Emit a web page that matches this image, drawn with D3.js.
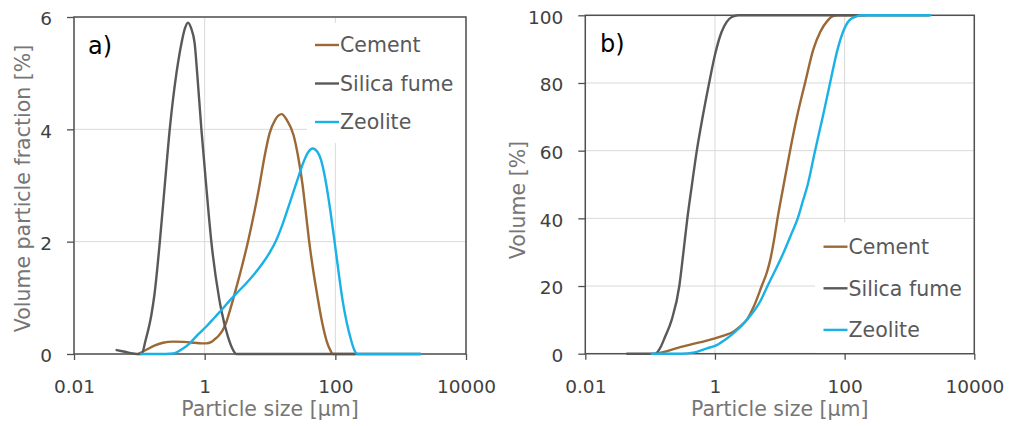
<!DOCTYPE html>
<html><head><meta charset="utf-8">
<script src="https://cdn.jsdelivr.net/npm/d3@7"></script>
<style>
body{margin:0;background:#fff}
svg{display:block}
text{font-family:"DejaVu Sans",sans-serif}
</style>
</head><body>
<svg id="c" width="1013" height="426"></svg>
<script>
// ---- data ----
const seriesNames = ["Cement", "Silica fume", "Zeolite"];
const seriesColors = ["#9c6836", "#595959", "#1ab1e6"];
const xTickValues = [0.01, 1, 100, 10000];
const freqTicks = [0, 2, 4, 6];
const cumTicks = [0, 20, 40, 60, 80, 100];

// frequency distribution [size µm, volume %]
const freqCement = [[0.096,0],[0.13,0.08],[0.17,0.15],[0.23,0.2],[0.33,0.22],[0.48,0.215],[0.7,0.2],[0.9,0.19],[1.06,0.19],[1.25,0.21],[1.42,0.26],[1.65,0.33],[1.9,0.43],[2.15,0.57],[2.4,0.75],[3.0,1.15],[3.7,1.55],[4.6,2.0],[5.7,2.5],[6.9,3.0],[8.2,3.5],[9.8,3.92],[12,4.17],[15.1,4.27],[18.2,4.16],[22.9,3.9],[26.9,3.52],[31.6,3.0],[35.5,2.5],[39.8,2.0],[45.7,1.5],[53.7,1.0],[63.1,0.55],[74.1,0.22],[85.1,0.05],[91.2,0],[200,0]];
const freqSilica = [[0.045,0.07],[0.06,0.04],[0.08,0.01],[0.1,0],[0.108,0],[0.125,0.25],[0.153,0.7],[0.17,1.05],[0.206,2.0],[0.245,3.0],[0.292,4.0],[0.37,5.0],[0.441,5.53],[0.5,5.8],[0.556,5.9],[0.62,5.8],[0.703,5.53],[0.768,5.0],[0.891,4.0],[1.055,3.0],[1.265,2.0],[1.66,1.0],[1.8,0.78],[2.27,0.31],[2.7,0.08],[3.05,0],[30,0],[2000,0]];
const freqZeolite = [[0.107,0],[0.2,0],[0.328,0.01],[0.441,0.08],[0.59,0.19],[0.78,0.34],[1.06,0.49],[1.42,0.65],[1.9,0.81],[2.41,0.95],[3.19,1.1],[4.33,1.26],[5.8,1.43],[7.76,1.62],[9.82,1.8],[12.4,2.02],[14.8,2.24],[17.7,2.5],[22.3,2.85],[26.6,3.12],[31.7,3.38],[37.8,3.58],[45,3.66],[53.1,3.6],[60.5,3.45],[72.1,3.04],[83.9,2.55],[96.6,2.03],[111,1.5],[129,0.96],[150,0.55],[174,0.25],[195,0.07],[219,0],[2000,0]];

// cumulative distribution [size µm, volume %]
const cumCement = [[0.126,0],[0.2,1.0],[0.3,2.0],[0.46,2.9],[0.7,3.7],[1.0,4.5],[1.4,5.4],[1.92,6.5],[2.5,8.2],[3.1,10],[3.98,14],[5.26,20],[6.31,24],[7.08,27.5],[8.13,33.5],[9.23,40],[11.5,50],[14.4,60],[18.4,70],[24.5,80],[33,90],[41.8,95],[55,98.5],[67.6,99.8],[79,100],[200,100]];
const cumSilica = [[0.044,0],[0.119,0],[0.141,1.5],[0.17,5],[0.215,10],[0.282,20],[0.324,29.5],[0.375,40],[0.442,50],[0.525,60],[0.646,70],[0.813,80],[1.02,89],[1.26,95],[1.51,98],[1.82,99.5],[2.29,100],[2000,100]];
const cumZeolite = [[0.106,0],[0.3,0],[0.46,0.3],[0.75,1.6],[1.0,2.3],[1.4,4.0],[1.92,6.0],[3.1,10],[5.0,15.5],[6.28,19.5],[11.5,30],[14.8,35],[18.9,40],[22.6,45],[27,50],[35,60],[46,70],[59.6,80],[78,90],[94,95],[118,98.5],[150,99.6],[174,100],[2100,100]];

// ---- drawing ----
const svg = d3.select("#c");
const FONT_TICK = 18.5, FONT_TITLE = 20.5, FONT_LEG = 20.5;

function panel(cfg){
  const x = d3.scaleLog().domain([0.01, 10000]).range([cfg.x0, cfg.x1]);
  const y = d3.scaleLinear().domain([0, cfg.ymax]).range([cfg.yBot, cfg.yTop]);
  const g = svg.append("g");

  // grid
  g.append("g").selectAll("line").data(xTickValues).join("line")
    .attr("x1", d => x(d)).attr("x2", d => x(d))
    .attr("y1", cfg.yTop).attr("y2", cfg.yBot)
    .attr("stroke", "#d9d9d9").attr("stroke-width", 1);
  g.append("g").selectAll("line").data(cfg.yTicks).join("line")
    .attr("x1", cfg.x0).attr("x2", cfg.x1)
    .attr("y1", d => y(d)).attr("y2", d => y(d))
    .attr("stroke", "#d9d9d9").attr("stroke-width", 1);

  // frame
  g.append("rect").attr("x", cfg.x0).attr("y", cfg.yTop)
    .attr("width", cfg.x1 - cfg.x0).attr("height", cfg.yBot - cfg.yTop)
    .attr("fill", "none").attr("stroke", "#505050").attr("stroke-width", 1.5);

  // axes
  const ax = g.append("g").attr("transform", `translate(0,${cfg.yBot})`)
    .call(d3.axisBottom(x).tickValues(xTickValues).tickFormat(d => String(d)).tickSize(6).tickPadding(20));
  const ay = g.append("g").attr("transform", `translate(${cfg.x0},0)`)
    .call(d3.axisLeft(y).tickValues(cfg.yTicks).tickFormat(d => String(d)).tickSize(7).tickPadding(15));
  [ax, ay].forEach(a => {
    a.select(".domain").remove();
    a.selectAll(".tick line").attr("stroke", "#505050").attr("stroke-width", 1.3);
    a.selectAll(".tick text").attr("fill", "#404040").attr("font-size", FONT_TICK)
      .attr("font-family", '"DejaVu Sans",sans-serif');
  });
  ay.selectAll(".tick text").attr("dy", "0.42em");

  // curves
  const line = d3.line().x(d => x(d[0])).y(d => y(d[1])).curve(d3.curveMonotoneX);
  cfg.series.forEach((s, i) => {
    g.append("path").datum(s).attr("d", line)
      .attr("fill", "none").attr("stroke", seriesColors[i])
      .attr("stroke-width", 2.4).attr("stroke-linejoin", "round").attr("stroke-linecap", "round");
  });

  // legend
  const L = cfg.legend;
  g.append("rect").attr("x", L.bx).attr("y", L.by).attr("width", L.bw).attr("height", L.bh).attr("fill", "#fff");
  seriesNames.forEach((n, i) => {
    const yy = L.y0 + i * L.dy;
    g.append("line").attr("x1", L.lx).attr("x2", L.lx + 24).attr("y1", yy).attr("y2", yy)
      .attr("stroke", seriesColors[i]).attr("stroke-width", 2.4);
    g.append("text").attr("x", L.lx + 25).attr("y", yy).attr("dy", "0.36em")
      .attr("font-size", FONT_LEG).attr("fill", "#595959").text(n);
  });

  // panel label
  g.append("text").attr("x", cfg.lab[0]).attr("y", cfg.lab[1]).attr("font-size", 24)
    .attr("fill", "#000").text(cfg.label);

  // axis titles
  g.append("text").attr("x", (cfg.x0 + cfg.x1) / 2).attr("y", 416).attr("text-anchor", "middle")
    .attr("font-size", FONT_TITLE).attr("fill", "#767676").text("Particle size [µm]");
  g.append("text").attr("transform", `translate(${cfg.yt[0]},${cfg.yt[1]}) rotate(-90)`)
    .attr("text-anchor", "middle").attr("font-size", FONT_TITLE).attr("fill", "#767676").text(cfg.ytitle);
}

panel({
  x0: 74, x1: 466, yTop: 17, yBot: 354, ymax: 6, yTicks: freqTicks,
  series: [freqCement, freqSilica, freqZeolite],
  legend: {bx: 307, by: 23, bw: 158, bh: 120, lx: 315, y0: 45, dy: 38.5},
  label: "a)", lab: [88, 53.5],
  ytitle: "Volume particle fraction [%]", yt: [30, 188.5]
});
panel({
  x0: 585.3, x1: 974.3, yTop: 15.3, yBot: 353.7, ymax: 100, yTicks: cumTicks,
  series: [cumCement, cumSilica, cumZeolite],
  legend: {bx: 815, by: 222, bw: 158, bh: 131, lx: 823.5, y0: 246.7, dy: 41.6},
  label: "b)", lab: [600, 52],
  ytitle: "Volume [%]", yt: [525, 200]
});
</script>
</body></html>
